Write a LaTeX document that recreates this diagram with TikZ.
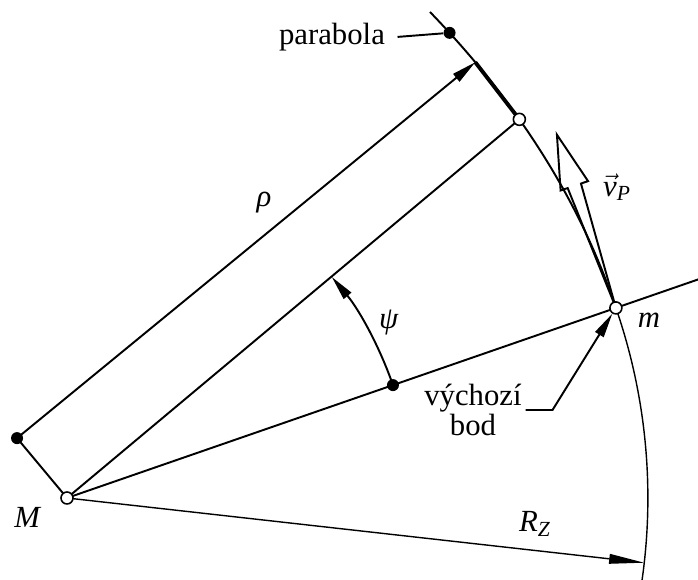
\documentclass[tikz,border=0pt]{standalone}
\usepackage{amsmath}
\usepackage{fontspec}
\setmainfont{Liberation Serif}
\usetikzlibrary{arrows.meta,calc}
\tikzset{
  % lines
  ln/.style={line width=1.1pt},
  thn/.style={line width=0.8pt},
  arr/.style={-{Triangle[length=14pt,width=5.5pt]}},
  arrL/.style={-{Triangle[length=20pt,width=5.5pt]}},
  % points
  opn/.style={circle,draw,line width=0.9pt,fill=white,inner sep=0pt,minimum size=0.24cm},
  blk/.style={circle,fill=black,inner sep=0pt,minimum size=0.24cm},
  % labels
  lbl/.style={font=\fontsize{17.5}{14}\selectfont,inner sep=2pt}
}

\begin{document}
\begin{tikzpicture}[x=0.02cm,y=0.02cm]
  \useasboundingbox (0,0) rectangle (698,580);
  % base points
  \coordinate (M)   at (67,82);
  \coordinate (m)   at ($(M)+(19.1:11.62cm)$);
  \coordinate (F)   at ($(M)+(19.1:6.9cm)$);
  \coordinate (D)   at ($(M)+(129.85:1.56cm)$);
  \coordinate (far) at ($(M)!1.15!(m)$);
  \coordinate (Rz)  at ($(M)+(-6.4:11.62cm)$);

  % velocity (hollow arrow)
  \begin{scope}[shift={(m)},rotate=108.8]
    \draw[ln,fill=white] (0,0) -- (129,-7) -- (129,-14.5) -- (183,0)
      -- (129,14.5) -- (129,7) -- cycle;
  \end{scope}

  % parabola and circle
  \draw[ln] (m) .. controls (578,385) and (513,482) .. (430,568)
    coordinate[pos=0.605] (T) coordinate[pos=0.81] (P) coordinate[pos=0.92] (Pb);
  \draw[line width=2.2pt] (P) -- (T);
  \draw[thn] (m) arc[start angle=19.1,end angle=-9,radius=11.62cm];

  % rays
  \draw[ln] (M) -- (far);
  \draw[ln] (M) -- (T);
  \draw[ln] (M) -- (D);
  \draw[ln,arr] (D) -- (P);
  \draw[ln,arr] (F) arc[start angle=19.1,end angle=39.85,radius=6.9cm];
  \draw[thn,arrL] (M) -- (Rz);

  % points
  \node[opn] (Mo) at (M)  {};
  \node[opn] (mo) at (m)  {};
  \node[opn] (To) at (T)  {};
  \node[blk] (Fd) at (F)  {};
  \node[blk] (Dd) at (D)  {};
  \node[blk] (Pd) at (Pb) {};

  % labels
  \node[lbl,anchor=base] (parab) at (332,535) {parabola};
  \draw[ln,shorten <=5pt] (parab.east) -- (Pd);
  \node[lbl,align=center] (vb) at (473,170) {výchozí\\bod};
  \draw[ln,arr] (vb.east) -- ++(27,0) coordinate (knee) -- (mo);
  \node[lbl] (Ml)  at (28,63)   {\textit{M}};
  \node[lbl] (ml)  at (649,260) {\textit{m}};
  \node[lbl] (rho) at (264,377) {\textit{ρ}};
  \node[lbl] (psi) at (389,257) {\textit{ψ}};
  \node[lbl] (vP)  at (617,393) {$\vec{\textit{v}}_{\textit{P}}$};
  \node[lbl] (RZ)  at (535,56)  {$\textit{R}_{\textit{Z}}$};
\end{tikzpicture}
\end{document}
